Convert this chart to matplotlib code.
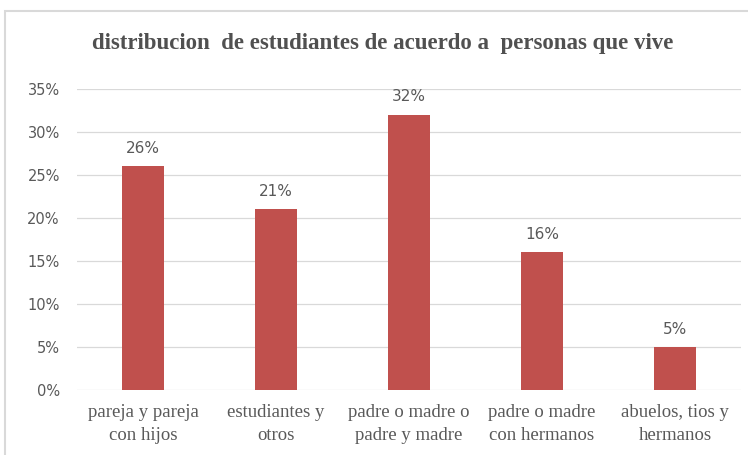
import matplotlib.pyplot as plt
from matplotlib.patches import Rectangle
from matplotlib.ticker import PercentFormatter

# Distribution of students by who they live with
categorias = ["pareja y pareja\ncon hijos", "estudiantes y\notros",
              "padre o madre o\npadre y madre", "padre o madre\ncon hermanos",
              "abuelos, tios y\nhermanos"]
porcentajes = [0.26, 0.21, 0.32, 0.16, 0.05]
titulo = "distribucion  de estudiantes de acuerdo a  personas que vive"

gris = "#595959"
rojo = "#C0504D"

fig = plt.figure(figsize=(7.48, 4.55), dpi=100)
ax = fig.add_axes([0.1023, 0.1429, 0.889, 0.6615])

# outer chart frame
fig.patches.append(Rectangle((5 / 748, -0.1), 1.2, 1 - 11 / 455 + 0.1,
                             transform=fig.transFigure, fill=False,
                             edgecolor="#D9D9D9", linewidth=1.5))

x = range(len(categorias))
bars = ax.bar(x, porcentajes, width=0.32, color=rojo, zorder=2)

for b, v in zip(bars, porcentajes):
    ax.text(b.get_x() + b.get_width() / 2, v + 0.012, f"{v:.0%}",
            ha="center", va="bottom", fontsize=11, color=gris,
            family="DejaVu Sans")

ax.set_xlim(-0.5, len(categorias) - 0.5)
ax.set_ylim(0, 0.35)
ax.set_yticks([i * 0.05 for i in range(8)])
ax.yaxis.set_major_formatter(PercentFormatter(1.0, decimals=0))
ax.grid(axis="y", color="#D9D9D9", linewidth=0.9, zorder=0)
for s in ax.spines.values():
    s.set_visible(False)
ax.tick_params(length=0)
ax.tick_params(axis="y", labelsize=10.5, labelcolor=gris, pad=12)
ax.set_xticks(list(x))
ax.set_xticklabels(categorias, fontsize=13.5, color=gris,
                   family="Liberation Serif", linespacing=1.45)
ax.tick_params(axis="x", pad=10)

fig.text(0.511, 0.905, titulo, ha="center", va="center", fontsize=16.5,
         fontweight="bold", color="#505050", family="Liberation Serif")

fig.savefig("out.png", dpi=100)
